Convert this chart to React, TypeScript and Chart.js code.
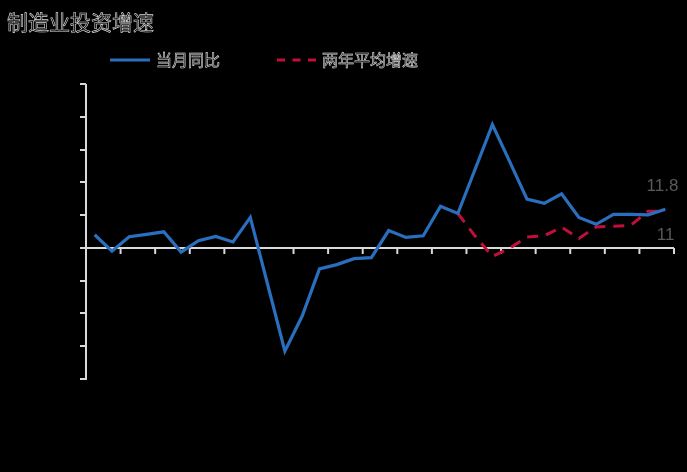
import React, { useEffect, useRef } from "react";
import { Chart, registerables } from "chart.js";

Chart.register(...registerables);

const TITLE = "制造业投资增速";
const SERIES_NAMES = ["当月同比", "两年平均增速"];
const CATEGORIES = Array.from({ length: 34 }, (_, i) => {
  const m = 2 + i; // starting 2019-03
  const y = 2019 + Math.floor(m / 12);
  return `${y}-${String((m % 12) + 1).padStart(2, "0")}`;
});
const monthly = [
  4.0, -1.0, 3.4, 4.1, 4.9, -1.3, 2.2, 3.5, 1.8, 9.3,
  -11.1, -31.5, -20.8, -6.4, -5.1, -3.3, -3.0, 5.3, 3.2, 3.7,
  12.7, 10.5, 24.0, 37.6, 26.3, 14.9, 13.6, 16.5, 9.3, 7.2,
  10.2, 10.2, 10.1, 11.8,
];
const twoYearAvg: (number | null)[] = [
  null, null, null, null, null, null, null, null, null, null,
  null, null, null, null, null, null, null, null, null, null,
  null, 10.5, 3.6, -2.6, -0.1, 3.3, 3.7, 6.3, 2.9, 6.4,
  6.6, 6.9, 11.2, 11.1,
];
const END_LABELS = ["11.8", "11"];
const Y_MIN = -40;
const Y_MAX = 50;
const Y_STEP = 10;

const BLUE = "#2a6fbd";
const RED = "#c0103a";
const AXIS = "#d9d9d9";

const outlineText = (ctx: CanvasRenderingContext2D, t: string, x: number, y: number) => {
  ctx.fillStyle = "#000";
  ctx.fillText(t, x, y);
  ctx.strokeStyle = "rgba(255,255,255,0.85)";
  ctx.lineWidth = 0.6;
  ctx.strokeText(t, x, y);
};

const decorPlugin = {
  id: "decor",
  beforeDatasetsDraw(chart: any) {
    const ctx = chart.ctx as CanvasRenderingContext2D;
    const xs = chart.scales.x;
    const ys = chart.scales.y;
    const { left, right, top, bottom } = chart.chartArea;
    ctx.save();
    ctx.strokeStyle = AXIS;
    ctx.lineWidth = 2;
    ctx.beginPath();
    ctx.moveTo(left, top);
    ctx.lineTo(left, bottom + 1);
    ctx.stroke();
    for (let v = Y_MIN; v <= Y_MAX; v += Y_STEP) {
      const py = Math.round(ys.getPixelForValue(v));
      ctx.beginPath();
      ctx.moveTo(left - 6, py);
      ctx.lineTo(left, py);
      ctx.stroke();
    }
    const zy = Math.round(ys.getPixelForValue(0));
    ctx.beginPath();
    ctx.moveTo(left, zy);
    ctx.lineTo(right, zy);
    ctx.stroke();
    const n = CATEGORIES.length;
    for (let i = 2; i <= n; i += 2) {
      const px = i < n
        ? (xs.getPixelForValue(i - 1) + xs.getPixelForValue(i)) / 2
        : right;
      ctx.beginPath();
      ctx.moveTo(px, zy);
      ctx.lineTo(px, zy + 6);
      ctx.stroke();
    }
    ctx.restore();
  },
  afterDraw(chart: any) {
    const ctx = chart.ctx as CanvasRenderingContext2D;
    ctx.save();
    ctx.font = "21px 'Noto Sans CJK SC'";
    ctx.textBaseline = "middle";
    ctx.textAlign = "left";
    outlineText(ctx, TITLE, 7, 22);
    ctx.lineWidth = 3;
    ctx.strokeStyle = BLUE;
    ctx.beginPath();
    ctx.moveTo(110, 60);
    ctx.lineTo(150, 60);
    ctx.stroke();
    ctx.strokeStyle = RED;
    ctx.setLineDash([8, 7.5]);
    ctx.beginPath();
    ctx.moveTo(277, 60);
    ctx.lineTo(317, 60);
    ctx.stroke();
    ctx.setLineDash([]);
    ctx.font = "16px 'Noto Sans CJK SC'";
    outlineText(ctx, SERIES_NAMES[0], 156, 60);
    outlineText(ctx, SERIES_NAMES[1], 322, 60);
    const m0 = chart.getDatasetMeta(0).data;
    const m1 = chart.getDatasetMeta(1).data;
    const p0 = m0[m0.length - 1];
    const p1 = m1[m1.length - 1];
    ctx.font = "17px 'Liberation Sans', Arial, sans-serif";
    ctx.fillStyle = "#595959";
    ctx.textAlign = "right";
    ctx.fillText(END_LABELS[0], p0.x + 13, p0.y - 23);
    ctx.fillText(END_LABELS[1], p1.x + 9, p1.y + 24);
    ctx.restore();
  },
};

export default function App() {
  const ref = useRef<HTMLCanvasElement>(null);
  useEffect(() => {
    document.body.style.margin = "0";
    document.body.style.background = "#000";
    const chart = new Chart(ref.current!, {
      type: "line",
      data: {
        labels: CATEGORIES,
        datasets: [
          {
            label: SERIES_NAMES[0],
            data: monthly,
            borderColor: BLUE,
            borderWidth: 3.2,
            pointRadius: 0,
            tension: 0,
          },
          {
            label: SERIES_NAMES[1],
            data: twoYearAvg,
            borderColor: RED,
            borderWidth: 3,
            borderDash: [11, 8],
            pointRadius: 0,
            tension: 0,
          },
        ],
      },
      options: {
        animation: false,
        responsive: false,
        maintainAspectRatio: false,
        layout: { padding: { left: 86, right: 13, top: 84, bottom: 93 } },
        plugins: { legend: { display: false }, tooltip: { enabled: false }, title: { display: false } },
        scales: {
          x: { type: "category", display: false, offset: true },
          y: { display: false, min: Y_MIN, max: Y_MAX },
        },
      },
      plugins: [decorPlugin],
    });
    return () => chart.destroy();
  }, []);
  return (
    <div style={{ width: 687, height: 472, background: "#000" }}>
      <canvas ref={ref} width={687} height={472} style={{ display: "block" }} />
    </div>
  );
}
